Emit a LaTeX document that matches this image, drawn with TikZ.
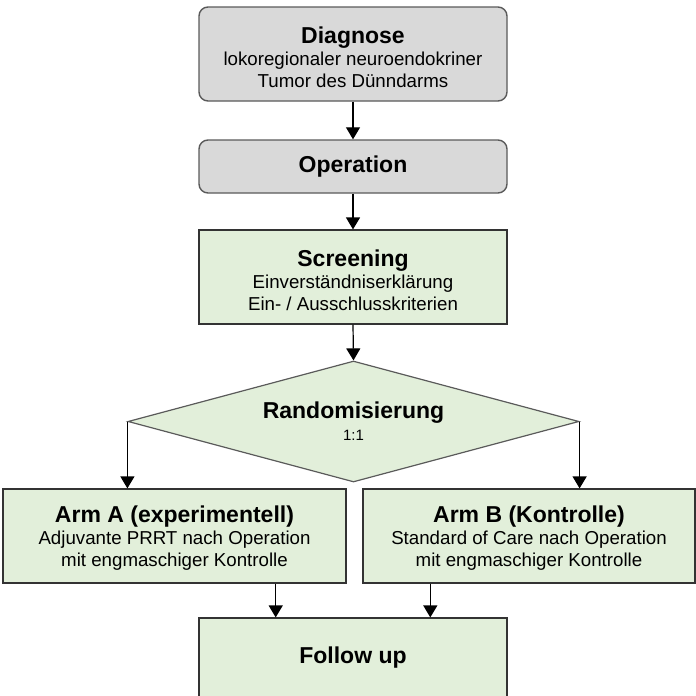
\documentclass[tikz,border=0pt]{standalone}
\usepackage{fontspec}
\setmainfont{Liberation Sans}
\usetikzlibrary{calc,shapes.geometric,arrows.meta}
\definecolor{grau}{HTML}{D9D9D9}
\definecolor{gruen}{HTML}{E2EFDA}
\definecolor{rand}{HTML}{5A5A5A}
\newcommand{\titel}[1]{{\fontsize{23}{22}\selectfont\bfseries #1}}
\tikzset{
	kasten/.style={draw=rand, fill=grau, line width=1.4pt, rounded corners=9pt, minimum width=308pt, align=center, inner sep=0pt},
	gkasten/.style={draw=black!80, fill=gruen, line width=1.2pt, align=center, inner sep=0pt},
	raute/.style={diamond, draw=rand, fill=gruen, line width=1.2pt, aspect=3.7, minimum width=451pt, minimum height=121pt, inner sep=0pt, align=center},
	pfeil/.style={-{Triangle[length=12pt,width=14pt]}, line width=1.2pt}
}

\begin{document}
\begin{tikzpicture}[x=1pt,y=-1pt,font=\fontsize{18.7}{22}\selectfont]
		\useasboundingbox (0,0) rectangle (696,696);
		\path
		(353,54) node[kasten, minimum height=94pt, text height=66pt, text depth=0pt] (diagnose) {\titel{Diagnose}\\lokoregionaler neuroendokriner\\Tumor des Dünndarms}
		(353,166.5) node[kasten, minimum height=53pt] (operation) {\titel{Operation}}
		(353,277) node[gkasten, minimum width=308pt, minimum height=94pt, text height=66pt, text depth=0pt] (screening) {\titel{Screening}\\Einverständniserklärung\\Ein- / Ausschlusskriterien}
		(353.5,421.5) node[raute] (random) {\titel{Randomisierung}\\{\fontsize{15}{15}\selectfont 1:1}}
		(174.5,536) node[gkasten, minimum width=343pt, minimum height=94pt, text height=60pt, text depth=0pt] (armA) {\titel{Arm A (experimentell)}\\Adjuvante PRRT nach Operation\\mit engmaschiger Kontrolle}
		(529,536) node[gkasten, minimum width=332pt, minimum height=94pt, text height=60pt, text depth=0pt] (armB) {\titel{Arm B (Kontrolle)}\\Standard of Care nach Operation\\mit engmaschiger Kontrolle}
		(353,657.5) node[gkasten, minimum width=308pt, minimum height=79pt] (followup) {\titel{Follow up}}
		;
		\path
		($(followup.north west)!0.25!(followup.north east)$) coordinate (fa)
		($(followup.north west)!0.75!(followup.north east)$) coordinate (fb)
		;
		\draw[pfeil] (diagnose.south) -- (operation.north);
		\draw[pfeil] (operation.south) -- (screening.north);
		\draw[pfeil] (screening.south) -- (random.north);
		\draw[pfeil] (random.west) -- (random.west |- armA.north);
		\draw[pfeil] (random.east) -- (random.east |- armB.north);
		\draw[pfeil] (armA.south -| fa) -- (fa);
		\draw[pfeil] (armB.south -| fb) -- (fb);
	\end{tikzpicture}
\end{document}
